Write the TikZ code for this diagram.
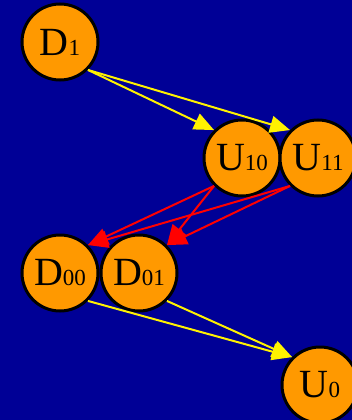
\documentclass[tikz,border=0pt]{standalone}
\usepackage{fontspec}
\setmainfont{Liberation Serif}
\usetikzlibrary{arrows.meta}
\definecolor{slidebg}{RGB}{0,0,150}
\definecolor{nodeorange}{RGB}{255,153,0}
\newcommand{\vlab}[2]{{\fontsize{40}{40}\selectfont #1}{\fontsize{23}{23}\selectfont #2}}

\begin{document}
\begin{tikzpicture}[
    x=1pt, y=-1pt,
    var/.style={circle, draw=black, line width=3pt, fill=nodeorange, minimum size=76pt, inner sep=0pt},
    yarr/.style={-{Triangle[length=20pt, width=17pt]}, line width=2pt, yellow},
    rarr/.style={-{Triangle[length=20pt, width=17pt]}, line width=2pt, red},
]
    \fill[slidebg] (0,0) rectangle (352,420);
    \useasboundingbox (0,0) rectangle (352,420);
    \node[var] (D1) at (60,42) {\vlab{D}{1}};
    \node[var] (U10) at (242,158) {\vlab{U}{10}};
    \node[var] (U11) at (318,158) {\vlab{U}{11}};
    \node[var] (D00) at (60,273) {\vlab{D}{00}};
    \node[var] (D01) at (139,273) {\vlab{D}{01}};
    \node[var] (U0) at (320,385) {\vlab{U}{0}};
    \draw[yarr] (D1.south east) -- (U10.north west);
    \draw[yarr] (D1.south east) -- (U11.north west);
    \draw[rarr] (U10.south west) -- (D00.north east);
    \draw[rarr] (U10.south west) -- (D01.north east);
    \draw[rarr] (U11.south west) -- (D00.north east);
    \draw[rarr] (U11.south west) -- (D01.north east);
    \draw[yarr] (D00.south east) -- (U0.north west);
    \draw[yarr] (D01.south east) -- (U0.north west);
\end{tikzpicture}
\end{document}
